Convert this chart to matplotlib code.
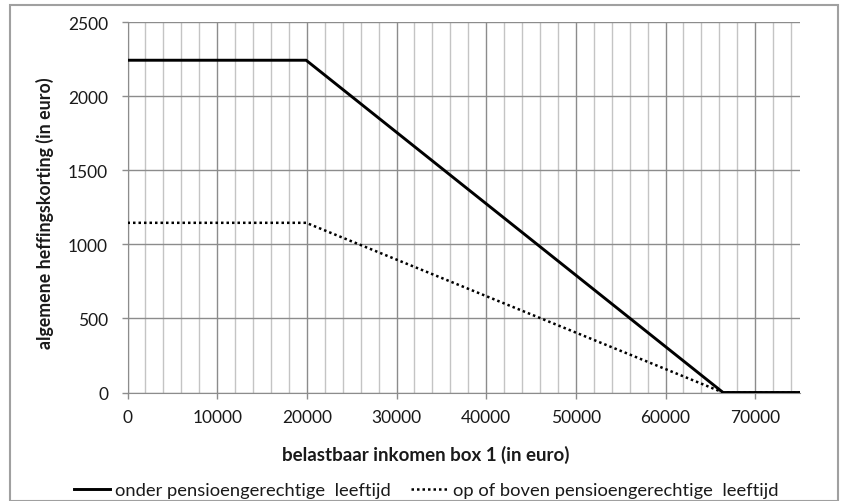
import matplotlib
matplotlib.use("Agg")
import matplotlib.pyplot as plt
from matplotlib.patches import Rectangle

# Data (knots of piecewise-linear curves)
inkomen_onder = [0, 19922, 66417, 75000]
korting_onder = [2242, 2242, 0, 0]
inkomen_boven = [0, 19922, 66417, 75000]
korting_boven = [1145, 1145, 0, 0]
label_onder = "onder pensioengerechtige  leeftijd"
label_boven = "op of boven pensioengerechtige  leeftijd"
x_ticks = [0, 10000, 20000, 30000, 40000, 50000, 60000, 70000]
y_ticks = [0, 500, 1000, 1500, 2000, 2500]

plt.rcParams['font.family'] = ['Lato', 'DejaVu Sans']

W, H = 843, 502
fig = plt.figure(figsize=(W/100, H/100), dpi=100)
L, R, T, B = 127.5, 800, 23, 393.5
ax = fig.add_axes([L/W, 1-B/H, (R-L)/W, (B-T)/H])

# grid
for x in range(0, 75000, 2000):
    major = (x % 10000 == 0)
    ax.axvline(x, color='#8c8c8c' if major else '#c4c4c4', lw=1.0, zorder=1)
for y in y_ticks:
    ax.axhline(y, color='#8c8c8c', lw=1.0, zorder=1)

ax.plot(inkomen_onder, korting_onder, color='black', lw=2.1, solid_joinstyle='miter', zorder=3, label=label_onder)
ax.plot(inkomen_boven, korting_boven, color='black', lw=1.8, linestyle=(0, (1, 1.2)), zorder=3, label=label_boven)

ax.set_xlim(0, 75000)
ax.set_ylim(0, 2500)
ax.set_xticks(x_ticks)
ax.set_yticks(y_ticks)
ax.set_xticklabels([str(v) for v in x_ticks])
ax.set_yticklabels([str(v) for v in y_ticks])
for s in ['top', 'right']:
    ax.spines[s].set_visible(False)
ax.spines['left'].set_color('#8c8c8c')
ax.spines['bottom'].set_color('#8c8c8c')
ax.tick_params(axis='both', colors='#8c8c8c', labelcolor='#1a1a1a', labelsize=12.5, length=4, width=1)
ax.tick_params(axis='x', pad=8)
ax.tick_params(axis='y', pad=10)

ax.set_xlabel('belastbaar inkomen box 1 (in euro)', fontsize=13.5, fontweight='bold', color='#1a1a1a', va='center')
ax.xaxis.set_label_coords((425.5-L)/(R-L), (B-455)/(B-T))
ax.set_ylabel('algemene heffingskorting (in euro)', fontsize=12.8, fontweight='bold', color='#1a1a1a', va='center')
ax.yaxis.set_label_coords((45-L)/(R-L), (B-213.5)/(B-T))

leg = fig.legend(loc='center', bbox_to_anchor=(426/W, 1-491/H), ncol=2, frameon=False,
                 fontsize=13.2, handlelength=2.0, handletextpad=0.27, columnspacing=1.1)
for t in leg.get_texts():
    t.set_color('#1a1a1a')

fig.patches.append(Rectangle((10/W, 0.0), (838-10)/W, 1-6/H, transform=fig.transFigure,
                             fill=False, edgecolor='#a0a0a0', lw=1.5))

fig.savefig('out.png', dpi=100, facecolor='white')
